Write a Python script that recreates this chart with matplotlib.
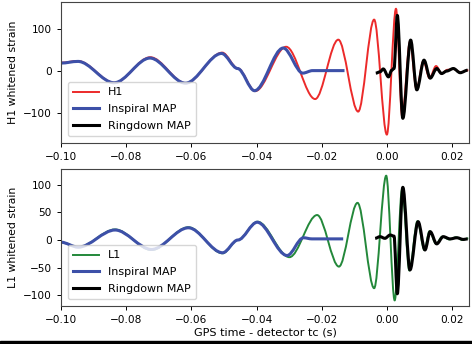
import matplotlib
matplotlib.use("Agg")
import matplotlib.pyplot as plt
from matplotlib.path import Path
from matplotlib.patches import PathPatch, Rectangle
from matplotlib.lines import Line2D

# values: turning points of each trace
# H1 data (red)
h1_t = [-0.1000, -0.0948, -0.0836, -0.0726, -0.0617, -0.0505, -0.0457, -0.0404,
        -0.0309, -0.0220, -0.0149, -0.0088, -0.0039, 0.0000, 0.0028, 0.0047,
        0.0071, 0.0091, 0.0112, 0.0131, 0.0151, 0.0168, 0.0186, 0.0204, 0.0226, 0.0250]
h1_v = [20, 24, -28, 33, -29, 44, 6, -48,
        58, -67, 75, -97, 123, -152, 149, -108,
        70, -44, 24, -17, 12, -6, 3, 5, -3, 2]

# H1 inspiral MAP (blue)
ins_h1_t = [-0.1000, -0.0948, -0.0837, -0.0727, -0.0618, -0.0507, -0.0458, -0.0406,
            -0.0318, -0.0258, -0.0228, -0.0130]
ins_h1_v = [19, 23, -28, 31, -29, 42, 6, -47, 55, -5, 1, 1]

# H1 ringdown MAP (black)
rd_h1_t = [-0.0034, -0.0021, -0.0011, 0.0005, 0.0015, 0.0022, 0.0032, 0.0049, 0.0073,
           0.0092, 0.0114, 0.0133, 0.0153, 0.0168, 0.0184, 0.0204, 0.0225, 0.0248]
rd_h1_v = [-5, -2, 5, -14, 2, 6, 133, -113, 74, -45, 26, -17, 6, -6, 0, 6, -4, 2]

# L1 data (green)
l1_t = [-0.1000, -0.0947, -0.0834, -0.0722, -0.0609, -0.0504, -0.0457, -0.0397,
        -0.0299, -0.0214, -0.0147, -0.0090, -0.0039, -0.0002, 0.0024, 0.0047,
        0.0069, 0.0094, 0.0115, 0.0131, 0.0151, 0.0170, 0.0192, 0.0212, 0.0232, 0.0250]
l1_v = [-4, -13, 19, -18, 23, -24, 0, 33,
        -31, 45, -48, 67, -87, 116, -109, 92,
        -55, 34, -18, 16, -7, 6, 1, 5, 0, 3]

# L1 inspiral MAP (blue)
ins_l1_t = [-0.1000, -0.0947, -0.0834, -0.0722, -0.0609, -0.0504, -0.0457, -0.0398,
            -0.0306, -0.0256, -0.0230, -0.0134]
ins_l1_v = [-4, -13, 18, -17, 22, -23, 0, 32, -28, 4, 2, 2]

# L1 ringdown MAP (black)
rd_l1_t = [-0.0036, -0.0021, -0.0006, 0.0010, 0.0022, 0.0032, 0.0049, 0.0071, 0.0096,
           0.0117, 0.0133, 0.0153, 0.0173, 0.0194, 0.0215, 0.0235, 0.0248]
rd_l1_v = [3, 6, 3, 9, 7, -97, 95, -54, 33, -18, 15, -7, 6, 2, 4, 1, 2]

RED = "#ec2a2a"
GREEN = "#23883a"
BLUE = "#3d50a8"
BLACK = "black"


def smooth_trace(ax, t, v, color, lw):
    # bezier segments between the read turning points, flat at each point
    verts = [(t[0], v[0])]
    codes = [Path.MOVETO]
    for i in range(1, len(t)):
        dt = t[i] - t[i - 1]
        verts += [(t[i - 1] + dt / 3, v[i - 1]), (t[i] - dt / 3, v[i]), (t[i], v[i])]
        codes += [Path.CURVE4] * 3
    ax.add_patch(PathPatch(Path(verts, codes), fill=False, edgecolor=color,
                           lw=lw, capstyle="butt", joinstyle="round"))


fs_tick = 7.6
fs_lab = 7.8
fs_leg = 8.0
fig = plt.figure(figsize=(4.72, 3.44), dpi=100)
ax1 = fig.add_axes([0.1292, 0.5843, 0.8644, 0.4099])
ax2 = fig.add_axes([0.1292, 0.1105, 0.8644, 0.3982])

panels = [
    (ax1, "H1", h1_t, h1_v, RED, ins_h1_t, ins_h1_v, rd_h1_t, rd_h1_v, (-172, 165), [-100, 0, 100]),
    (ax2, "L1", l1_t, l1_v, GREEN, ins_l1_t, ins_l1_v, rd_l1_t, rd_l1_v, (-119, 128), [-100, -50, 0, 50, 100]),
]

for ax, name, dt_, dv, col, it, iv, rt, rv, ylim, yt in panels:
    smooth_trace(ax, dt_, dv, col, 1.4)
    smooth_trace(ax, it, iv, BLUE, 2.2)
    smooth_trace(ax, rt, rv, BLACK, 2.2)
    ax.set_xlim(-0.1, 0.0252)
    ax.set_ylim(*ylim)
    ax.set_yticks(yt)
    ax.set_xticks([-0.10, -0.08, -0.06, -0.04, -0.02, 0.00, 0.02])
    ax.tick_params(labelsize=fs_tick, length=3, width=0.7)
    for s in ax.spines.values():
        s.set_linewidth(0.8)
        s.set_color("#444444")
    ax.set_ylabel(name + " whitened strain", fontsize=fs_lab)
    handles = [Line2D([], [], color=col, lw=1.4),
               Line2D([], [], color=BLUE, lw=2.2),
               Line2D([], [], color=BLACK, lw=2.2)]
    ax.legend(handles, [name, "Inspiral MAP", "Ringdown MAP"], loc="lower left",
              fontsize=fs_leg, handlelength=2.3, labelspacing=0.6,
              borderpad=0.5, borderaxespad=0.6)

ax2.set_xlabel("GPS time - detector tc (s)", fontsize=fs_lab + 0.3, labelpad=2)

# dark strip along the bottom edge of the picture
fig.patches.append(Rectangle((0, 0), 1, 3 / 344, transform=fig.transFigure,
                             color="black", zorder=10))

fig.savefig("out.png", dpi=100)
